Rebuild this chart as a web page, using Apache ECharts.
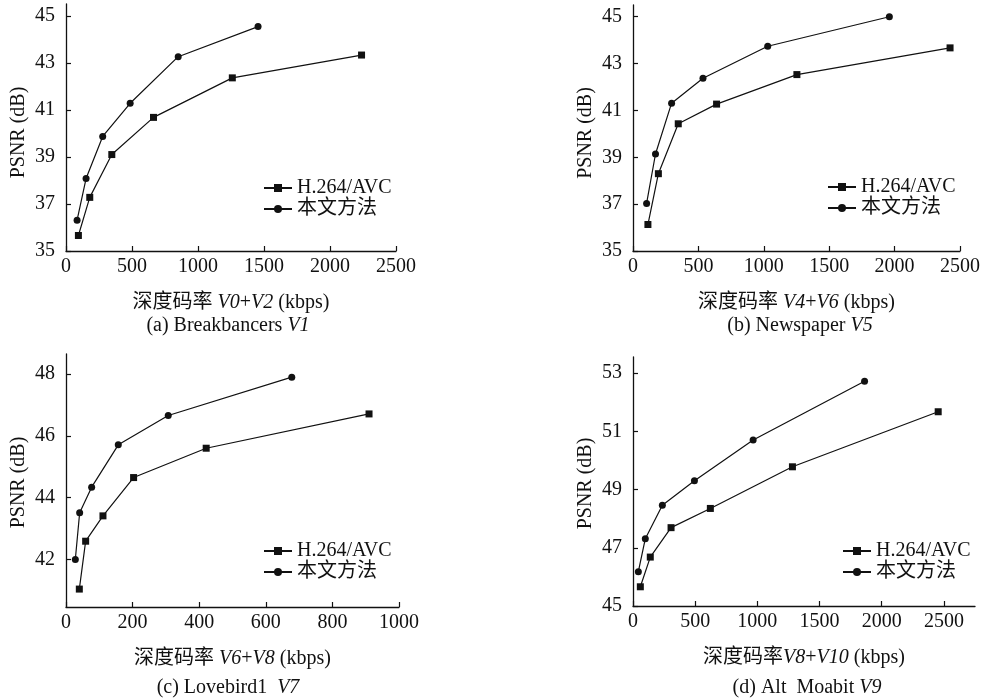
<!DOCTYPE html>
<html>
<head>
<meta charset="UTF-8">
<title>depth rate vs PSNR</title>
<script src="https://cdn.jsdelivr.net/npm/echarts@6/dist/echarts.min.js"></script>
<style>
  html, body { margin: 0; padding: 0; background: #fff; }
  #main { width: 983px; height: 698px; }
</style>
</head>
<body>
<div id="main"></div>
<script type="text/javascript">
// (a) Breakbancers
var rateA_avc  = [94, 180, 347, 663, 1260, 2239];
var psnrA_avc  = [35.66, 37.28, 39.10, 40.68, 42.36, 43.33];
var rateA_ours = [84, 152, 278, 486, 850, 1455];
var psnrA_ours = [36.31, 38.08, 39.87, 41.28, 43.26, 44.54];
// (b) Newspaper
var rateB_avc  = [114, 194, 346, 639, 1253, 2424];
var psnrB_avc  = [36.13, 38.30, 40.43, 41.27, 42.53, 43.67];
var rateB_ours = [104, 172, 295, 535, 1030, 1960];
var psnrB_ours = [37.03, 39.14, 41.31, 42.37, 43.74, 45.00];
// (c) Lovebird1
var rateC_avc  = [40, 59, 111, 203, 421, 910];
var psnrC_avc  = [41.04, 42.59, 43.41, 44.65, 45.60, 46.71];
var rateC_ours = [28, 41, 77, 157, 307, 678];
var psnrC_ours = [42.00, 43.51, 44.34, 45.71, 46.66, 47.90];
// (d) Alt Moabit
var rateD_avc  = [59, 139, 306, 622, 1282, 2454];
var psnrD_avc  = [45.66, 46.68, 47.69, 48.35, 49.78, 51.67];
var rateD_ours = [43, 99, 236, 494, 966, 1862];
var psnrD_ours = [46.18, 47.31, 48.46, 49.30, 50.70, 52.72];

var xTicksA = [0, 500, 1000, 1500, 2000, 2500];
var xTicksC = [0, 200, 400, 600, 800, 1000];
var yTicksA = [35, 37, 39, 41, 43, 45];
var yTicksC = [42, 44, 46, 48];
var yTicksD = [45, 47, 49, 51, 53];

var seriesNames = ['H.264/AVC', '本文方法'];

var FONT = "'Liberation Serif', 'Noto Sans CJK SC', serif";
var INK = '#111';
var FS = 20;

function pairs(xs, ys) {
  return xs.map(function (x, i) { return [x, ys[i]]; });
}

var panels = [
  { grid: { left: 66, top: 4, width: 330, height: 247 },
    x: [0, 2500], xt: xTicksA, y: [35, 45.5], yt: yTicksA,
    xname: '深度码率 {it|V0}+{it|V2} (kbps)', ypad: [0, 10, 0, 0],
    avc: pairs(rateA_avc, psnrA_avc), ours: pairs(rateA_ours, psnrA_ours),
    legend: { left: 258, top: 173 },
    caption: { x: 228, y: 326, text: '(a) Breakbancers {it|V1}' } },
  { grid: { left: 633, top: 5, width: 330, height: 246 },
    x: [0, 2500], xt: xTicksA, y: [35, 45.5], yt: yTicksA,
    xname: '深度码率 {it|V4}+{it|V6} (kbps)', ypad: [0, 10, 0, 0],
    avc: pairs(rateB_avc, psnrB_avc), ours: pairs(rateB_ours, psnrB_ours),
    legend: { left: 822, top: 172 },
    caption: { x: 800, y: 326, text: '(b) Newspaper {it|V5}' } },
  { grid: { left: 66, top: 354, width: 333, height: 253 },
    x: [0, 1000], xt: xTicksC, y: [40.46, 48.65], yt: yTicksC,
    xname: '深度码率 {it|V6}+{it|V8} (kbps)', ypad: [0, 4, 0, 0],
    avc: pairs(rateC_avc, psnrC_avc), ours: pairs(rateC_ours, psnrC_ours),
    legend: { left: 258, top: 536 },
    caption: { x: 228, y: 688, text: '(c) Lovebird1  {it|V7}' } },
  { grid: { left: 633, top: 357, width: 342, height: 249 },
    x: [0, 2750], xt: xTicksA, y: [45, 53.55], yt: yTicksD,
    xname: '深度码率{it|V8}+{it|V10} (kbps)', ypad: [0, 4, 0, 0],
    avc: pairs(rateD_avc, psnrD_avc), ours: pairs(rateD_ours, psnrD_ours),
    legend: { left: 837, top: 536 },
    caption: { x: 807, y: 688, text: '(d) Alt  Moabit {it|V9}' } }
];

var richIt = { it: { fontStyle: 'italic', fontFamily: FONT, fontSize: FS, color: INK } };

function plain(v) { return String(v); }

var option = {
  animation: false,
  backgroundColor: '#fff',
  grid: [], xAxis: [], yAxis: [], series: [], legend: [],
  graphic: []
};

panels.forEach(function (p, i) {
  option.grid.push(p.grid);
  option.xAxis.push({
    type: 'value', gridIndex: i, min: p.x[0], max: p.x[1],
    name: p.xname, nameLocation: 'middle', nameGap: 42,
    nameTextStyle: { fontFamily: FONT, fontSize: FS, color: INK, rich: richIt },
    axisLine: { lineStyle: { color: INK, width: 1.3 } },
    axisTick: { inside: true, length: 5, customValues: p.xt, lineStyle: { color: INK, width: 1.2 } },
    axisLabel: { customValues: p.xt, formatter: plain, margin: 6, fontFamily: FONT, fontSize: FS, color: INK },
    splitLine: { show: false }
  });
  option.yAxis.push({
    type: 'value', gridIndex: i, min: p.y[0], max: p.y[1],
    name: 'PSNR (dB)', nameLocation: 'middle', nameGap: 37,
    nameTextStyle: { fontFamily: FONT, fontSize: FS, color: INK, padding: p.ypad },
    axisLine: { show: true, lineStyle: { color: INK, width: 1.3 } },
    axisTick: { show: true, inside: true, length: 5, customValues: p.yt, lineStyle: { color: INK, width: 1.2 } },
    axisLabel: { customValues: p.yt, formatter: plain, margin: 11, fontFamily: FONT, fontSize: FS, color: INK },
    splitLine: { show: false }
  });
  option.series.push({
    name: seriesNames[0], type: 'line', xAxisIndex: i, yAxisIndex: i,
    data: p.avc, symbol: 'rect', symbolSize: 7,
    lineStyle: { color: INK, width: 1.2 }, itemStyle: { color: INK }
  });
  option.series.push({
    name: seriesNames[1], type: 'line', xAxisIndex: i, yAxisIndex: i,
    data: p.ours, symbol: 'circle', symbolSize: 7,
    lineStyle: { color: INK, width: 1.2 }, itemStyle: { color: INK }
  });
  option.legend.push({
    left: p.legend.left, top: p.legend.top, orient: 'vertical',
    data: seriesNames, itemWidth: 28, itemHeight: 10, itemGap: 1,
    selectedMode: false,
    textStyle: { fontFamily: FONT, fontSize: FS, color: INK, lineHeight: 14 }
  });
  option.graphic.push({
    type: 'text',
    x: p.caption.x, y: p.caption.y,
    style: {
      text: p.caption.text, fill: INK, font: FS + 'px ' + FONT,
      align: 'center', verticalAlign: 'middle',
      rich: richIt
    }
  });
});

var myChart = echarts.init(document.getElementById('main'), null, { renderer: 'canvas' });
myChart.setOption(option);
</script>
</body>
</html>
